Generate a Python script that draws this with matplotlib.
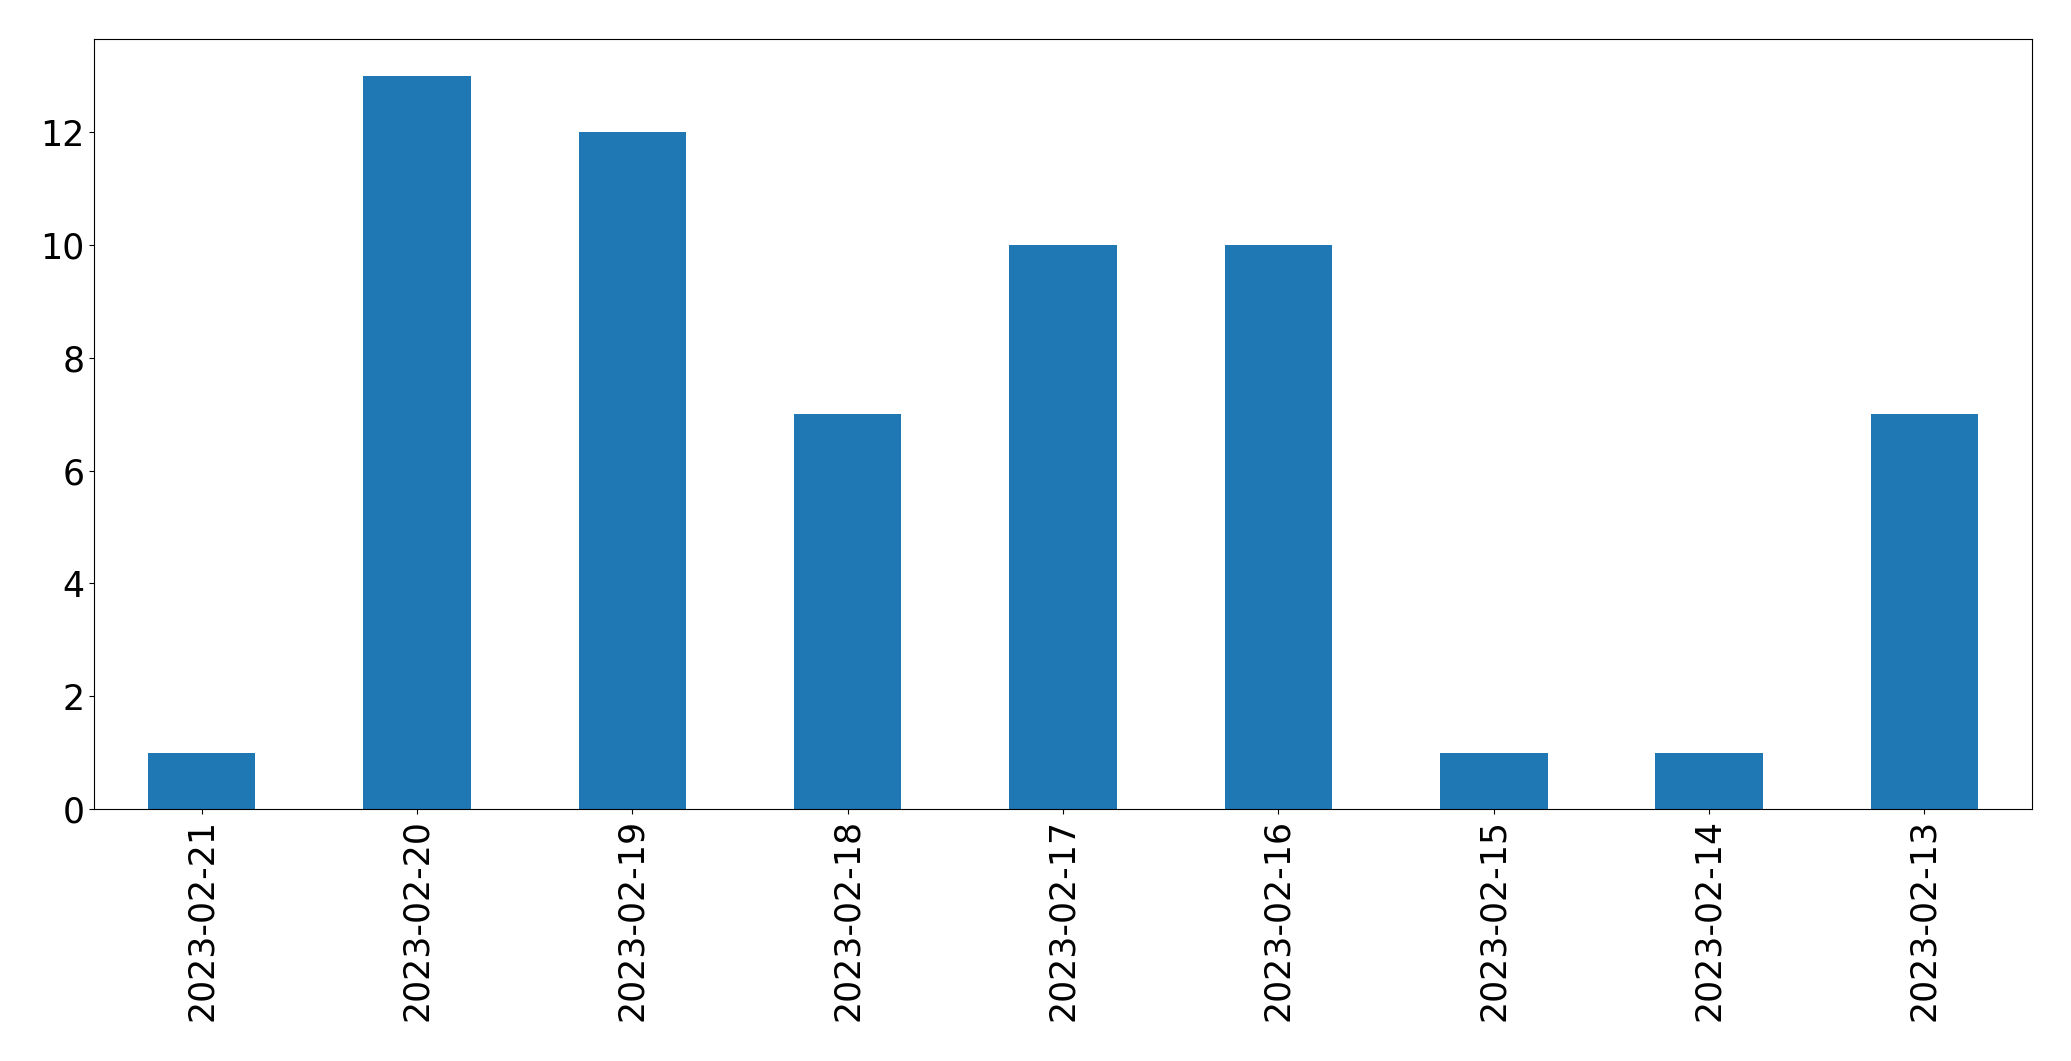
import matplotlib
matplotlib.use("Agg")
import matplotlib.pyplot as plt
import pandas as pd

dates = ["2023-02-21", "2023-02-20", "2023-02-19", "2023-02-18", "2023-02-17",
         "2023-02-16", "2023-02-15", "2023-02-14", "2023-02-13"]
counts = [1, 13, 12, 7, 10, 10, 1, 1, 7]

fig = plt.figure(figsize=(20.71, 10.61), dpi=100)
ax = fig.add_axes([94 / 2071, 1 - 809 / 1061, (2032 - 94) / 2071, (809 - 39.3) / 1061])
s = pd.Series(counts, index=dates)
s.plot(kind="bar", ax=ax, color="#1f77b4")
ax.tick_params(axis="both", labelsize=25)
fig.savefig("out.png", dpi=100)
